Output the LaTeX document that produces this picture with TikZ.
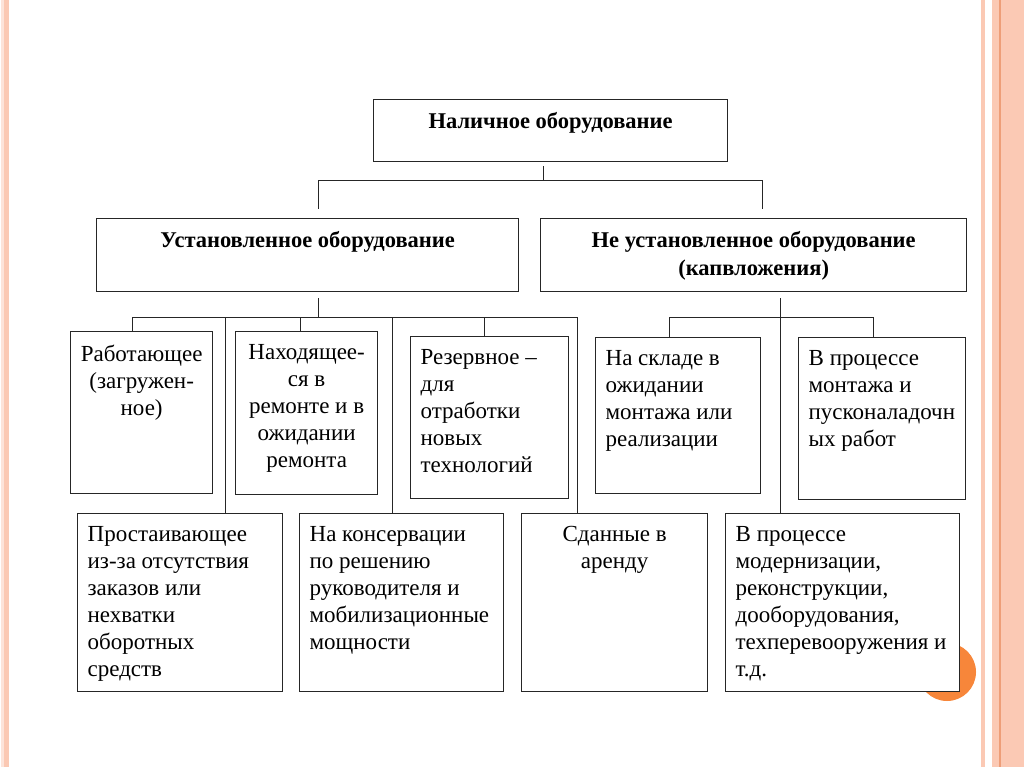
\documentclass[tikz,border=0pt]{standalone}
\usepackage{fontspec}
\setmainfont{Liberation Serif}
\definecolor{peche}{HTML}{FBC9B4}
\definecolor{pechefonce}{HTML}{EE9E78}
\definecolor{orangerond}{HTML}{F7863A}
\newcommand\cadretxt[4]{\parbox[t][\dimexpr#2pt-2pt][t]{#1pt}{#3#4}}

\begin{document}
\begin{tikzpicture}[x=1pt,y=-1pt,
  boite/.style={draw=black!85, fill=white, line width=1.3pt, anchor=north west,
    inner xsep=10pt, inner ysep=13pt, font=\fontsize{23}{27}\selectfont},
  titre/.style={boite, font=\fontsize{22.5}{28}\selectfont\bfseries},
  lien/.style={draw=black!85, line width=1pt}]
\useasboundingbox (0,0) rectangle (1024,767);

% Фон слайда
\fill[white] (0,0) rectangle (1024,767);
\fill[peche!50] (1,0) rectangle (4,767);
\fill[peche] (4,0) rectangle (9,767);
\fill[peche] (981,0) rectangle (985,767);
\fill[peche] (992,0) rectangle (1024,767);
\draw[pechefonce, line width=1.2pt] (1000,0) -- (1000,767);
\fill[orangerond] (947,672) circle (29);

% Верхний уровень
\node[titre] (top) at (373,99) {\cadretxt{334}{38}{\centering}{Наличное оборудование}};
\node[titre] (inst) at (96,218) {\cadretxt{402}{49}{\centering}{Установленное оборудование}};
\node[titre] (notinst) at (540,218) {\cadretxt{406}{49}{\centering}{Не установленное оборудование\\(капвложения)}};

% Установленное: первый ряд
\node[boite] (work) at (70,331) {\cadretxt{122}{138}{\centering}{Работающее\\(загружен-\\ное)}};
\node[boite] (repair) at (235,331) {\cadretxt{122}{139}{\centering}{Находящее-\\ся в\\ремонте и в\\ожидании\\ремонта}};
\node[boite] (reserve) at (410,336) {\cadretxt{138}{138}{\raggedright}{Резервное –\\для\\отработки\\новых\\технологий}};

% Установленное: второй ряд
\node[boite] (idle) at (77,513) {\cadretxt{185}{154}{\raggedright}{Простаивающее\\из-за отсутствия\\заказов или\\нехватки\\оборотных\\средств}};
\node[boite] (conserv) at (299,513) {\cadretxt{184}{154}{\raggedright}{На консервации\\по решению\\руководителя и\\мобилизационные\\мощности}};
\node[boite] (rent) at (521,513) {\cadretxt{166}{154}{\centering}{Сданные в\\аренду}};

% Не установленное
\node[boite] (stock) at (595,337) {\cadretxt{145}{132}{\raggedright}{На складе в\\ожидании\\монтажа или\\реализации}};
\node[boite] (mount) at (798,337) {\cadretxt{147}{138}{\raggedright}{В процессе\\монтажа и\\пусконаладочн\\ых работ}};
\node[boite] (modern) at (725,513) {\cadretxt{214}{154}{\raggedright}{В процессе\\модернизации,\\реконструкции,\\дооборудования,\\техперевооружения и\\т.д.}};

% Связи верхнего уровня
\draw[lien] ([xshift=-7pt,yshift=-4pt]top.south) -- ++(0,14) coordinate (j0);
\draw[lien] ([xshift=11pt,yshift=9pt]inst.north) |- (j0) -| ([xshift=9pt,yshift=9pt]notinst.north);

% Связи установленного
\draw[lien] ([xshift=11pt,yshift=-6pt]inst.south) -- ++(0,19) coordinate (j1);
\draw[lien] ([xshift=-9pt]work.north) |- (j1) -| ([xshift=-37pt]rent.north);
\foreach \n/\dx in {idle/45.5, repair/-6, conserv/-9, reserve/-5}
  \draw[lien] ([xshift=\dx pt]\n.north) |- (j1);

% Связи не установленного
\draw[lien] ([xshift=27pt,yshift=-6pt]notinst.south) -- ([xshift=-62pt]modern.north);
\draw[lien] ([xshift=-8.5pt]stock.north) -- ++(0,-20) -| ([xshift=-8.5pt]mount.north);

\end{tikzpicture}
\end{document}
